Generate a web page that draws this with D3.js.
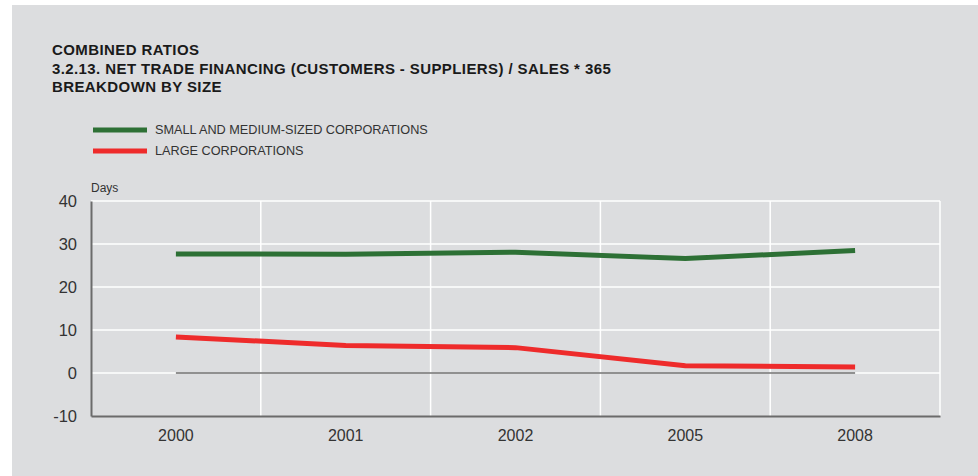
<!DOCTYPE html>
<html>
<head>
<meta charset="utf-8">
<script src="https://cdn.jsdelivr.net/npm/d3@7"></script>
<style>
	body { margin: 0; background: #fff; }
	svg { display: block; font-family: "Liberation Sans", Arial, sans-serif; }
	.axis text { fill: #333; }
</style>
</head>
<body>
<div id="chart"></div>
<script>
const years = ["2000", "2001", "2002", "2005", "2008"];
const smallMedium = [27.7, 27.6, 28.1, 26.6, 28.5];
const large = [8.4, 6.4, 5.9, 1.7, 1.4];
const yTicks = [-10, 0, 10, 20, 30, 40];
const titleLines = [
	"COMBINED RATIOS",
	"3.2.13. NET TRADE FINANCING (CUSTOMERS - SUPPLIERS) / SALES * 365",
	"BREAKDOWN BY SIZE",
];
const seriesNames = ["SMALL AND MEDIUM-SIZED CORPORATIONS", "LARGE CORPORATIONS"];
const seriesColors = ["#2d7035", "#ee2b2b"];

const width = 978, height = 476;
const margin = { top: 201, right: 38, bottom: 60, left: 91 };

let svg = d3.select("#chart")
	.append("svg")
		.attr("width", width)
		.attr("height", height);

svg.append("rect")
	.attr("x", 12)
	.attr("y", 5)
	.attr("width", width - 12)
	.attr("height", height - 5)
	.attr("fill", "#dcdddf");

svg.append("g")
	.attr("class", "title")
	.selectAll("text")
		.data(titleLines)
		.enter()
		.append("text")
			.attr("x", 52)
			.attr("y", (d, i) => 55 + i * 18.5)
			.attr("font-size", 15)
			.attr("letter-spacing", 0.4)
			.attr("font-weight", "bold")
			.attr("fill", "#1a1a1a")
			.text(d => d);

let legend = svg.append("g")
	.attr("class", "legend")
	.selectAll("g")
		.data(seriesNames)
		.enter()
		.append("g")
			.attr("transform", (d, i) => `translate(93, ${130 + i * 21})`);
legend.append("line")
	.attr("x2", 54)
	.attr("stroke", (d, i) => seriesColors[i])
	.attr("stroke-width", 5);
legend.append("text")
	.attr("x", 62)
	.attr("dy", "0.35em")
	.attr("font-size", 12.7)
	.attr("fill", "#333")
	.text(d => d);

let innerW = width - margin.left - margin.right;
let innerH = height - margin.top - margin.bottom;

let x = d3.scaleBand()
	.domain(years)
	.range([0, innerW]);
let y = d3.scaleLinear()
	.domain([-10, 40])
	.range([innerH, 0]);

let chart = svg.append("g")
	.attr("transform", `translate(${margin.left}, ${margin.top})`);

// grid
chart.append("g")
	.attr("class", "grid")
	.selectAll("line")
		.data(yTicks.filter(d => d > -10))
		.enter()
		.append("line")
			.attr("x1", 0)
			.attr("x2", innerW)
			.attr("y1", d => y(d))
			.attr("y2", d => y(d))
			.attr("stroke", "#fff")
			.attr("stroke-width", 1.5);
chart.append("g")
	.selectAll("line")
		.data(years.slice(1).concat(["end"]))
		.enter()
		.append("line")
			.attr("x1", d => d === "end" ? innerW : x(d))
			.attr("x2", d => d === "end" ? innerW : x(d))
			.attr("y1", 0)
			.attr("y2", innerH)
			.attr("stroke", "#fff")
			.attr("stroke-width", 1.5);

// zero line between first and last category
chart.append("line")
	.attr("x1", x(years[0]) + x.bandwidth() / 2)
	.attr("x2", x(years[years.length - 1]) + x.bandwidth() / 2)
	.attr("y1", y(0))
	.attr("y2", y(0))
	.attr("stroke", "#2a2a2a")
	.attr("stroke-width", 1.2);

// axes
let axisY = chart.append("g")
	.attr("class", "axis y")
	.call(d3.axisLeft(y).tickValues(yTicks).tickSize(0).tickPadding(14).tickFormat(d => String(d)));
axisY.select(".domain").attr("stroke", "#6b6b6b").attr("stroke-width", 2);
axisY.selectAll("text").attr("font-size", 16.5).attr("font-family", "Liberation Sans, Arial, sans-serif");

let axisX = chart.append("g")
	.attr("class", "axis x")
	.attr("transform", `translate(0, ${innerH})`)
	.call(d3.axisBottom(x).tickSize(0).tickPadding(14));
axisX.select(".domain").attr("stroke", "#6b6b6b").attr("stroke-width", 2);
axisX.selectAll("text").attr("font-size", 16).attr("font-family", "Liberation Sans, Arial, sans-serif");

chart.append("text")
	.attr("x", 0)
	.attr("y", -9)
	.attr("font-size", 12)
	.attr("fill", "#333")
	.text("Days");

// lines
let line = d3.line()
	.x((d, i) => x(years[i]) + x.bandwidth() / 2)
	.y(d => y(d));
chart.append("g")
	.selectAll("path")
		.data([smallMedium, large])
		.enter()
		.append("path")
			.attr("d", line)
			.attr("fill", "none")
			.attr("stroke", (d, i) => seriesColors[i])
			.attr("stroke-width", 5);
</script>
</body>
</html>
